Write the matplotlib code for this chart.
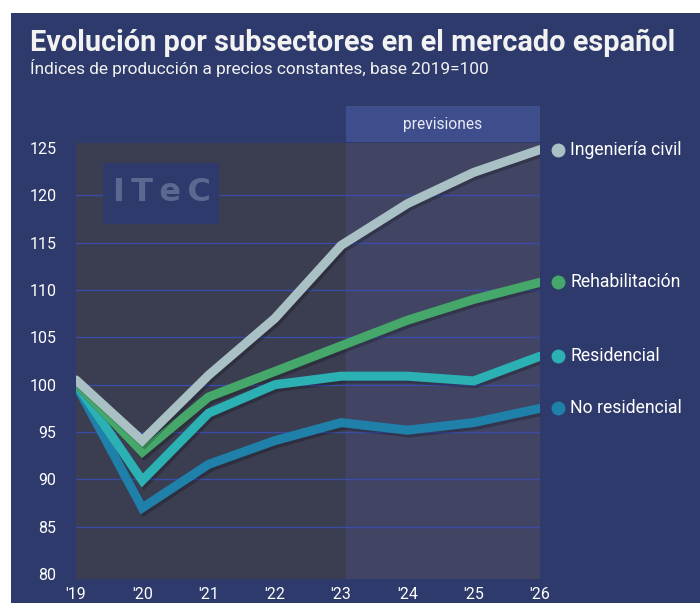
import matplotlib.pyplot as plt
import matplotlib.patheffects as pe
from matplotlib.patches import Rectangle

# datos
years = [2019, 2020, 2021, 2022, 2023, 2024, 2025, 2026]
year_labels = ["'19", "'20", "'21", "'22", "'23", "'24", "'25", "'26"]
ingenieria = [100.5, 94.1, 101.0, 107.0, 114.7, 119.1, 122.4, 124.8]
rehabilitacion = [100.2, 92.9, 98.7, 101.4, 104.1, 106.8, 109.0, 110.8]
residencial = [100.1, 89.9, 97.0, 100.0, 100.9, 100.9, 100.4, 103.0]
no_residencial = [100.0, 87.0, 91.6, 94.1, 96.0, 95.2, 96.0, 97.5]

series = [
    ("Ingeniería civil", ingenieria, "#a9c1c5"),
    ("Rehabilitación", rehabilitacion, "#45a76a"),
    ("Residencial", residencial, "#2bb1b3"),
    ("No residencial", no_residencial, "#1f80aa"),
]

BG = "#2e3a6b"
FONT = ["Roboto", "DejaVu Sans"]

fig = plt.figure(figsize=(7, 6.03), dpi=100)
fig.patch.set_facecolor("white")
fig.add_artist(Rectangle((11 / 700, 0), 1, (603 - 13) / 603, transform=fig.transFigure,
                         facecolor=BG, edgecolor="none", zorder=-10))

ax = fig.add_axes([76 / 700, 1 - 579 / 603, 464 / 700, 436 / 603])
ax.set_facecolor("#3b3d50")
ax.set_xlim(2019, 2026)
ax.set_ylim(79.5, 125.5)

# zona de previsiones
ax.axvspan(2023.07, 2026, color="#414462", zorder=0)
ax.add_patch(Rectangle((2023.07, 1.002), 2026 - 2023.07, 0.083,
                       transform=ax.get_xaxis_transform(), facecolor="#3e4e8c",
                       edgecolor="none", clip_on=False))
ax.text((2023.07 + 2026) / 2, 1.043, "previsiones", transform=ax.get_xaxis_transform(),
        ha="center", va="center", color="#e8ebf5", fontsize=11.2, family=FONT)

# rejilla
for v in range(85, 125, 5):
    ax.axhline(v, color="#3a4ca6", lw=1, zorder=1)

# logo
ax.add_patch(Rectangle(((103 - 76) / 464, (579 - 224) / 436), 116 / 464, 61 / 436,
                       transform=ax.transAxes, facecolor=BG, edgecolor="none", zorder=2))
ax.text((162 - 76) / 464, (579 - 193) / 436, "I\u2009T\u2009e\u2009C", transform=ax.transAxes,
        ha="center", va="center", color="#5b6990", fontsize=23, fontweight="bold",
        family="DejaVu Sans", zorder=3)

shadow = [pe.SimpleLineShadow(offset=(1.5, -2), shadow_color="black", alpha=0.22), pe.Normal()]
for name, vals, col in reversed(series):
    ax.plot(years, vals, color=col, lw=6.5, solid_joinstyle="miter", solid_capstyle="round",
            zorder=5, path_effects=shadow)
    ax.plot([2026.27], [vals[-1]], "o", color=col, ms=9, clip_on=False, zorder=6)
    ax.text(2026.46, vals[-1], name, ha="left", va="center", color="white",
            fontsize=12.7, family=FONT, clip_on=False)

ax.set_xticks(years)
ax.set_xticklabels(year_labels)
ax.set_yticks(range(80, 130, 5))
ax.tick_params(length=0, colors="white", labelsize=11.5)
ax.tick_params(axis="y", pad=14)
ax.tick_params(axis="x", pad=6)
for lab in ax.get_xticklabels() + ax.get_yticklabels():
    lab.set_family(FONT)
for s in ax.spines.values():
    s.set_visible(False)

fig.text(30 / 700, 1 - 43 / 603, "Evolución por subsectores en el mercado español",
         ha="left", va="center", color="#f2f2f2", fontsize=20.8, fontweight="bold", family=FONT)
fig.text(30 / 700, 1 - 68 / 603, "Índices de producción a precios constantes, base 2019=100",
         ha="left", va="center", color="#f2f2f2", fontsize=12.4, family=FONT)

fig.savefig("out.png", dpi=100, facecolor=fig.get_facecolor())
